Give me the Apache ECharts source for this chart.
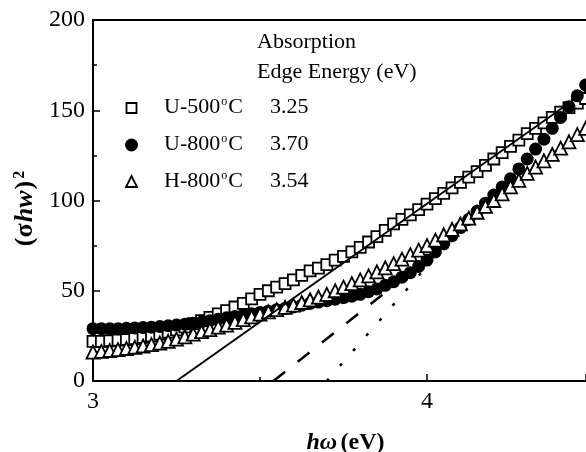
<!DOCTYPE html>
<html>
<head>
<meta charset="utf-8">
<script src="https://cdn.jsdelivr.net/npm/echarts@6/dist/echarts.min.js"></script>
<style>
html,body{margin:0;padding:0;background:#fff;}
#c{width:586px;height:452px;}
</style>
</head>
<body>
<div id="c"></div>
<script>
// Photon energy (eV)
const energy = [3.000,3.025,3.050,3.075,3.100,3.125,3.150,3.175,3.200,3.225,3.250,3.275,3.300,3.325,3.350,3.375,3.400,3.425,3.450,3.475,3.500,3.525,3.550,3.575,3.600,3.625,3.650,3.675,3.700,3.725,3.750,3.775,3.800,3.825,3.850,3.875,3.900,3.925,3.950,3.975,4.000,4.025,4.050,4.075,4.100,4.125,4.150,4.175,4.200,4.225,4.250,4.275,4.300,4.325,4.350,4.375,4.400,4.425,4.450,4.475];
// (σhw)^2 values
const u500 = [22,22,22.3,22.6,23,23.5,24.2,25,26,27,28.3,30,31.8,33.5,35.3,37.2,39,41,43,45.5,48,50,52,54,56,58.5,61,62.5,64.5,67,69,71.5,74,77,80,83.5,87,89.5,92,95,98,101,104,107,110,113,116,119.5,123,126.5,130,133.5,137,140,143,146,149,151.5,154,156.5];
const u800 = [29,29,29,29,29.2,29.4,29.6,29.8,30.2,30.6,31,31.5,32,32.7,33.4,34.2,35,35.7,36.5,37.2,38,38.7,39.5,40.2,41,42,43,43.7,44.5,45.3,46.2,47,48,49.5,51,53,55,57.5,60,63.5,67,71.5,76,80.5,85,89.5,94,98.5,103,107.5,112,117.5,123,128.5,134,140,146,152,158,164];
const h800 = [16,16.4,16.9,17.4,18,18.7,19.4,20.2,21,22,23.2,24.5,26,27.3,28.5,29.8,31,32.5,34,35.5,37,38.3,39.5,40.8,42,43.5,45,46.5,48,50,52,54,56,58.2,60.5,62.7,65,67.5,70,72.5,75,78,81,84,87,90.2,93.5,96.7,100,103.7,107.5,111.2,115,118.5,122,125.5,129,132.5,136.5,140];
// Linear fits (edge extrapolation): [x, y] endpoints
const fitU500 = [[3.25,0],[4.5,163.75]];
const fitH800 = [[3.54,0],[3.95,60]];
const fitU800 = [[3.70,0],[4.00,63.6]];
// legend texts
const legendHead = ['Absorption','Edge Energy (eV)'];
const legendNames = ['U-500','U-800','H-800'];
const legendEdges = ['3.25','3.70','3.54'];
const xTicks = ['3','4'];

const SERIF = "'Liberation Serif','Times New Roman',serif";
const zip = (xs, ys) => xs.map((x,i)=>[x, ys[i]]);

const chart = echarts.init(document.getElementById('c'));

const rowY = [108, 145, 182];
const graphic = [];
graphic.push({type:'text', left:257, top:31, style:{text:legendHead[0], font:"22px "+SERIF, fill:'#000'}});
graphic.push({type:'text', left:257, top:61, style:{text:legendHead[1], font:"22px "+SERIF, fill:'#000'}});
legendNames.forEach((n,i)=>{
  graphic.push({type:'text', left:164, top:rowY[i]-12, style:{
    text:'{a|'+n+'}{s|o}{a|C}',
    rich:{a:{fontFamily:SERIF,fontSize:22,fill:'#000',color:'#000'}, s:{fontFamily:SERIF,fontSize:12,verticalAlign:'top',color:'#000',padding:[0,1,10,1]}},
    fill:'#000'}});
  graphic.push({type:'text', left:270, top:rowY[i]-12, style:{text:legendEdges[i], font:"22px "+SERIF, fill:'#000'}});
});
graphic.push({type:'rect', shape:{x:126.5, y:rowY[0]-5, width:10, height:10}, style:{fill:'#fff', stroke:'#000', lineWidth:1.8}});
graphic.push({type:'circle', shape:{cx:131.5, cy:rowY[1], r:6.5}, style:{fill:'#000'}});
graphic.push({type:'polygon', shape:{points:[[131.5,rowY[2]-6],[137,rowY[2]+5],[126,rowY[2]+5]]}, style:{fill:'#fff', stroke:'#000', lineWidth:1.8}});

const axisCommon = {
  axisLine:{show:true, onZero:false, lineStyle:{color:'#000', width:2}},
  splitLine:{show:false}
};

chart.setOption({
  animation:false,
  backgroundColor:'#fff',
  grid:{left:93, top:20, right:0, bottom:71, containLabel:false, outerBoundsMode:'none'},
  graphic: graphic,
  xAxis:[{
    type:'value', min:3, max:4.476, interval:1, position:'bottom',
    axisLine:axisCommon.axisLine, splitLine:axisCommon.splitLine,
    axisTick:{show:true, inside:true, length:7, lineStyle:{color:'#000', width:1.5}},
    minorTick:{show:true, splitNumber:2, length:4, lineStyle:{color:'#000', width:1.5}},
    axisLabel:{margin:9, fontFamily:SERIF, fontSize:24, color:'#000', showMaxLabel:false,
      formatter:(v)=>{const s=String(Math.round(v*10)/10); return xTicks.indexOf(s)>=0?s:'';}},
    name:'{i|hω} {b|(eV)}', nameLocation:'middle', nameGap:50,
    nameTextStyle:{padding:[0,0,0,12], rich:{
      i:{fontFamily:SERIF, fontSize:24, fontWeight:'bold', fontStyle:'italic', color:'#000'},
      b:{fontFamily:SERIF, fontSize:24, fontWeight:'bold', color:'#000'}}}
  },{
    type:'value', min:3, max:4.476, interval:1, position:'top',
    axisLine:axisCommon.axisLine, splitLine:axisCommon.splitLine,
    axisTick:{show:false}, axisLabel:{show:false}
  }],
  yAxis:{
    type:'value', min:0, max:200, interval:50,
    axisLine:axisCommon.axisLine, splitLine:axisCommon.splitLine,
    axisTick:{show:true, inside:true, length:7, lineStyle:{color:'#000', width:1.5}},
    minorTick:{show:true, splitNumber:2, length:4, lineStyle:{color:'#000', width:1.5}},
    axisLabel:{margin:8, fontFamily:SERIF, fontSize:24, color:'#000'},
    name:'{b|(σ}{i|hw}{b|)}{s|2}', nameLocation:'middle', nameGap:47, nameRotate:90,
    nameTextStyle:{padding:[0,16,0,0], rich:{
      b:{fontFamily:SERIF, fontSize:26, fontWeight:'bold', color:'#000'},
      i:{fontFamily:SERIF, fontSize:26, fontWeight:'bold', fontStyle:'italic', color:'#000', padding:[0,1,0,1]},
      s:{fontFamily:SERIF, fontSize:16, fontWeight:'bold', color:'#000', verticalAlign:'top', padding:[0,0,10,2]}}}
  },
  series:[
    {type:'scatter', name:'U-500', data:zip(energy,u500), symbol:'rect', symbolSize:11,
     itemStyle:{color:'#fff', borderColor:'#000', borderWidth:1.8, opacity:1}, z:2},
    {type:'scatter', name:'U-800', data:zip(energy,u800), symbol:'circle', symbolSize:13,
     itemStyle:{color:'#000', borderColor:'#000', borderWidth:0, opacity:1}, z:3},
    {type:'scatter', name:'H-800', data:zip(energy,h800), symbol:'triangle', symbolSize:13,
     itemStyle:{color:'#fff', borderColor:'#000', borderWidth:1.8, opacity:1}, z:4},
    {type:'line', data:fitU500, symbol:'none', lineStyle:{color:'#000', width:2, type:'solid'}, z:5},
    {type:'line', data:fitH800, symbol:'none', lineStyle:{color:'#000', width:2.5, type:[15,16]}, z:5},
    {type:'line', data:fitU800, symbol:'none', lineStyle:{color:'#000', width:2.5, type:[3,17]}, z:1}
  ]
});
</script>
</body>
</html>
